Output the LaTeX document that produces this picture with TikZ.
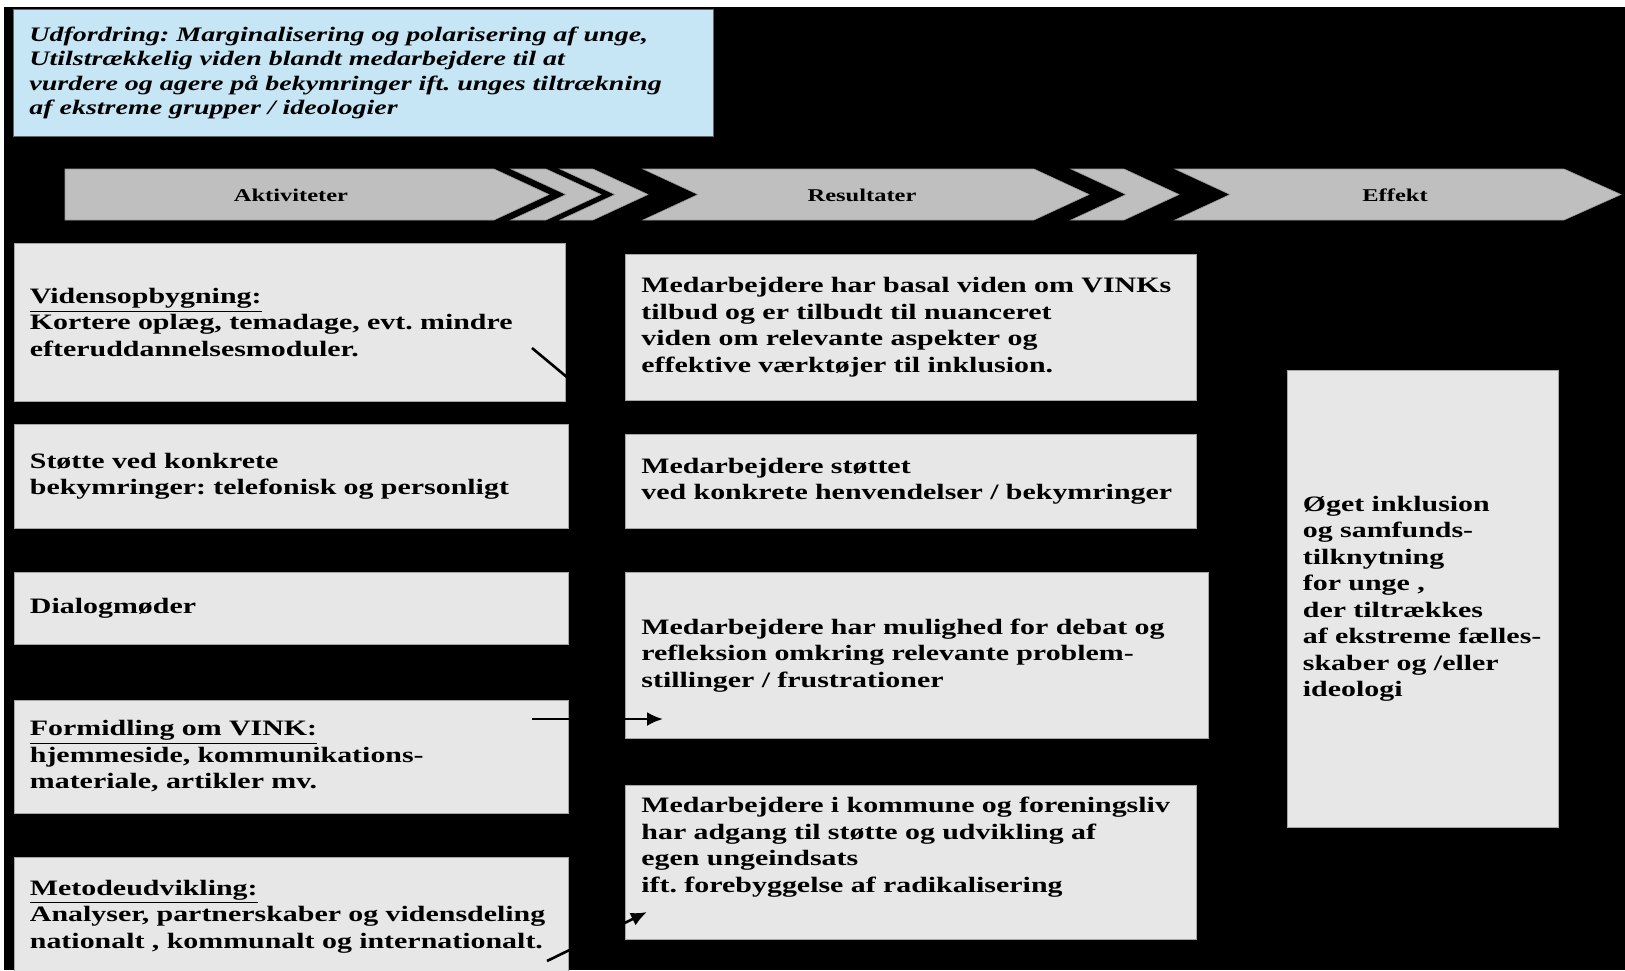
\documentclass[tikz,border=0pt]{standalone}
\usepackage{fontspec}
\setmainfont[FakeStretch=1.36]{Liberation Serif}
\frenchspacing
\usetikzlibrary{arrows.meta}
\definecolor{boxgrey}{RGB}{231,231,231}
\definecolor{chevgrey}{RGB}{191,191,191}
\definecolor{lightsky}{RGB}{198,230,245}
\tikzset{>={Latex[length=8pt,width=7pt]}}
\tikzset{
  card/.style={draw=gray!70, line width=0.4pt, fill=boxgrey, anchor=north west,
    inner xsep=8pt, inner ysep=0pt, align=left,
    font=\fontsize{11}{13.25}\selectfont\bfseries},
  chev/.style={fill=chevgrey, draw=gray!80, line width=0.3pt},
  chevlabel/.style={font=\fontsize{9}{10}\selectfont\bfseries},
  link/.style={line width=1.3pt}
}

\begin{document}
\begin{tikzpicture}[x=0.5pt,y=-0.5pt]
            \useasboundingbox (0,0) rectangle (1625,970);
            \fill[white] (0,0) rectangle (1625,970);
            \fill[black] (4,7) rectangle (1625,970);

            % Challenge
            \node[card, fill=lightsky, draw=black!60, text width=334pt, minimum height=63.5pt,
                  font=\fontsize{10.3}{12.2}\selectfont\bfseries\itshape] (udf) at (13,9)
                {Udfordring: Marginalisering og polarisering af unge,\\
                 Utilstrækkelig viden blandt medarbejdere til at\\
                 vurdere og agere på bekymringer ift. unges tiltrækning\\
                 af ekstreme grupper / ideologier};

            % Phases
            \draw[chev] (65,169) -- (494,169) -- (549,194.5) -- (494,220) -- (65,220) -- cycle;
            \draw[chev] (511,169) -- (546,169) -- (601,194.5) -- (546,220) -- (511,220) -- (566,194.5) -- cycle;
            \draw[chev] (560,169) -- (593,169) -- (648,194.5) -- (593,220) -- (560,220) -- (615,194.5) -- cycle;
            \draw[chev] (643,169) -- (1034,169) -- (1089,194.5) -- (1034,220) -- (643,220) -- (698,194.5) -- cycle;
            \draw[chev] (1071,169) -- (1124,169) -- (1179,194.5) -- (1124,220) -- (1071,220) -- (1126,194.5) -- cycle;
            \draw[chev] (1175,169) -- (1564,169) -- (1621,194.5) -- (1564,220) -- (1175,220) -- (1230,194.5) -- cycle;
            \node[chevlabel] (akt) at (291,195) {Aktiviteter};
            \node[chevlabel] (res) at (862,195) {Resultater};
            \node[chevlabel] (eft) at (1395,195) {Effekt};

            % Activities
            \node[card, text width=259.5pt, minimum height=79pt] (vid) at (13.5,243)
                {\underline{Vidensopbygning:}\\ Kortere oplæg, temadage, evt. mindre\\ efteruddannelsesmoduler.};
            \node[card, text width=261.25pt, minimum height=51.75pt] (stoette) at (13.5,424)
                {Støtte ved konkrete\\ bekymringer: telefonisk og personligt};
            \node[card, text width=261.25pt, minimum height=35.8pt] (dialog) at (13.5,572)
                {Dialogmøder};
            \node[card, text width=261.25pt, minimum height=56.5pt] (formid) at (13.5,699.6)
                {\underline{Formidling om VINK:}\\ hjemmeside, kommunikations-\\ materiale, artikler mv.};
            \node[card, text width=261.25pt, minimum height=59pt] (metode) at (13.5,857)
                {\underline{Metodeudvikling:}\\ Analyser, partnerskaber og vidensdeling\\ nationalt , kommunalt og internationalt.};

            % Results
            \node[card, text width=269.5pt, minimum height=73pt] (viden) at (625,254)
                {Medarbejdere har basal viden om VINKs\\ tilbud og er tilbudt til nuanceret\\ viden om relevante aspekter og\\ effektive værktøjer til inklusion.};
            \node[card, text width=269.5pt, minimum height=46.75pt] (stoettet) at (625,434)
                {Medarbejdere støttet\\ ved konkrete henvendelser / bekymringer};
            \node[card, text width=275.5pt, minimum height=83pt] (debat) at (625,572)
                {Medarbejdere har mulighed for debat og\\ refleksion omkring relevante problem-\\ stillinger / frustrationer};
            \node[card, text width=269.5pt, minimum height=77pt] (adgang) at (625,784.5)
                {Medarbejdere i kommune og foreningsliv\\ har adgang til støtte og udvikling af\\ egen ungeindsats\\ ift. forebyggelse af radikalisering\\[4pt]\mbox{}};

            % Effect
            \node[card, text width=120pt, inner xsep=7.75pt, minimum height=228.5pt] (inkl) at (1287,370)
                {Øget inklusion\\ og samfunds-\\ tilknytning\\ for unge ,\\ der tiltrækkes\\ af ekstreme fælles-\\ skaber og /eller\\ ideologi};

            % Links
            \coordinate (l1a) at (532,348);
            \coordinate (l1b) at (568,378);
            \coordinate (l2a) at (532,719);
            \coordinate (l2b) at (663,719);
            \coordinate (l3a) at (547,961);
            \coordinate (l3b) at (647,912);
            \draw[link] (l1a) -- (l1b);
            \draw[link,->] (l2a) -- (l2b);
            \draw[link,->] (l3a) -- (l3b);
            \fill[black] (572,230) rectangle (625,970);
        \end{tikzpicture}
\end{document}
